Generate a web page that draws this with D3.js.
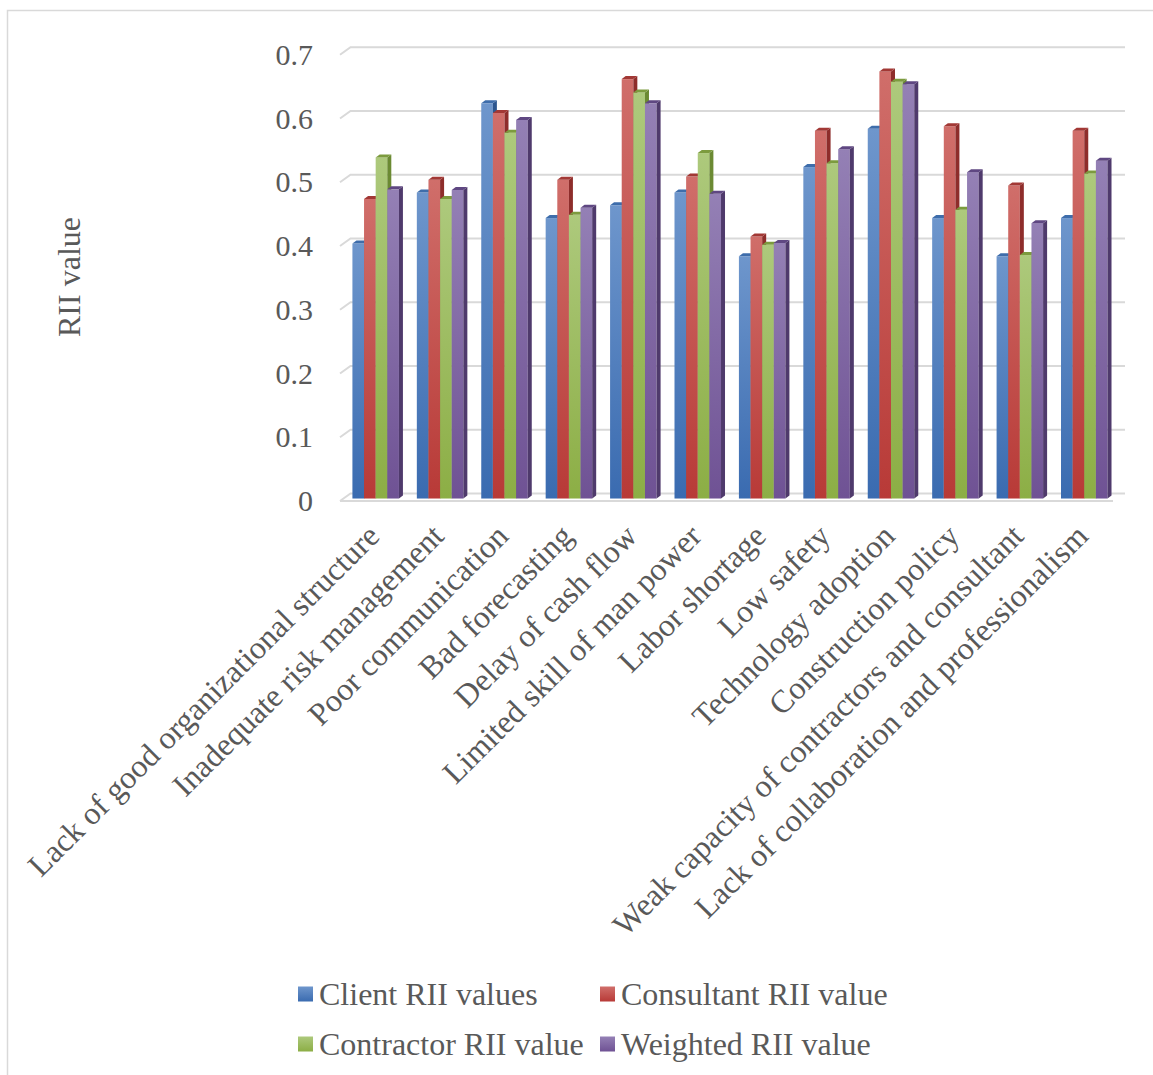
<!DOCTYPE html>
<html>
<head>
<meta charset="utf-8">
<script src="https://cdn.jsdelivr.net/npm/d3@7"></script>
<style>
  html, body { margin: 0; padding: 0; background: #fff; }
  svg { display: block; }
  text { font-family: "Liberation Serif", "Times New Roman", serif; fill: #595959; }
</style>
</head>
<body>
<svg id="chart" width="1153" height="1075"></svg>
<script>
// ---- data ----
const categories = [
  "Lack of good organizational structure",
  "Inadequate risk management",
  "Poor communication",
  "Bad forecasting",
  "Delay of cash flow",
  "Limited skill of man power",
  "Labor shortage",
  "Low safety",
  "Technology adoption",
  "Construction policy",
  "Weak capacity of contractors and consultant",
  "Lack of collaboration and professionalism"
];
const seriesNames = ["Client RII values", "Consultant RII value", "Contractor RII value", "Weighted RII value"];
const clientRII     = [0.40, 0.48, 0.62, 0.44, 0.46, 0.48, 0.38, 0.52, 0.58, 0.44, 0.38, 0.44];
const consultantRII = [0.47, 0.50, 0.605, 0.50, 0.658, 0.505, 0.411, 0.577, 0.67, 0.584, 0.491, 0.577];
const contractorRII = [0.535, 0.47, 0.574, 0.445, 0.637, 0.542, 0.398, 0.526, 0.654, 0.453, 0.382, 0.51];
const weightedRII   = [0.485, 0.484, 0.594, 0.456, 0.62, 0.478, 0.401, 0.548, 0.65, 0.512, 0.432, 0.53];
const yTicks = [0, 0.1, 0.2, 0.3, 0.4, 0.5, 0.6, 0.7];
const axisTitle = "RII value";

const seriesValues = [clientRII, consultantRII, contractorRII, weightedRII];
const seriesColors = [
  { light: "#6e96cc", dark: "#3a6bb0", side: "#2c568f", cap: "#3e6dab" },
  { light: "#d06e6a", dark: "#b83a37", side: "#8e2d2b", cap: "#a23835" },
  { light: "#adc97c", dark: "#8cae45", side: "#6b8a33", cap: "#7c9b3e" },
  { light: "#9480b5", dark: "#6f5294", side: "#4f3a6c", cap: "#5f4782" }
];

// ---- layout ----
const svg = d3.select("#chart");
const W = 1153, H = 1075;
svg.append("rect").attr("width", W).attr("height", H).attr("fill", "#fff");
svg.append("rect")
  .attr("x", 7.5).attr("y", 10.5).attr("width", W).attr("height", H)
  .attr("fill", "none").attr("stroke", "#d9d9d9").attr("stroke-width", 1.5);

const front = { left: 340, right: 1113 };
const depth = { dx: 10.5, dy: -7.5 };          // floor/wall depth offset
const barDepth = { start: 0.33, dx: 4, dy: -3 }; // bars sit inside the floor depth

// value scale measured on the back wall
const yBack = d3.scaleLinear().domain([0, 0.7]).range([493.5, 47.3]);
// the same scale projected onto the front edge
const yFront = d3.scaleLinear().domain([0, 0.7]).range([493.5 - depth.dy, 47.3 - depth.dy]);

const x = d3.scaleBand().domain(categories).range([front.left, front.right]).paddingInner(0).paddingOuter(0);
const groupPad = 8.95;
const xs = d3.scaleBand().domain(d3.range(seriesNames.length))
  .range([0, x.bandwidth() - 2 * groupPad]).padding(0);

// ---- gradients ----
const defs = svg.append("defs");
seriesColors.forEach((c, i) => {
  const g = defs.append("linearGradient").attr("id", "grad" + i)
    .attr("x1", 0).attr("y1", 0).attr("x2", 0).attr("y2", 1);
  g.append("stop").attr("offset", "0%").attr("stop-color", c.light);
  g.append("stop").attr("offset", "100%").attr("stop-color", c.dark);
});

// ---- gridlines (left wall diagonal + back wall) ----
const grid = svg.append("g").attr("class", "grid");
yTicks.forEach(v => {
  const yb = yBack(v);
  grid.append("path")
    .attr("d", `M${front.left},${yb - depth.dy}L${front.left + depth.dx},${yb}L${front.right + depth.dx + 1.5},${yb}`)
    .attr("fill", "none").attr("stroke", "#d9d9d9").attr("stroke-width", 2);
});
// front edge of the floor
grid.append("line")
  .attr("x1", front.left).attr("x2", front.right)
  .attr("y1", yFront(0)).attr("y2", yFront(0))
  .attr("stroke", "#d9d9d9").attr("stroke-width", 2);

// ---- y axis labels ----
const yAxis = d3.axisLeft(yFront).tickValues(yTicks).tickSize(0).tickPadding(0)
  .tickFormat(d => d3.format("")(d));
const yAxisG = svg.append("g").attr("transform", "translate(313,0)").call(yAxis);
yAxisG.select(".domain").remove();
yAxisG.selectAll("text")
  .attr("font-size", 30).attr("fill", "#595959")
  .style("font-family", '"Liberation Serif", serif');

svg.append("text")
  .attr("transform", "translate(80,277) rotate(-90)")
  .attr("text-anchor", "middle").attr("font-size", 32)
  .text(axisTitle);

// ---- bars ----
const barShiftX = depth.dx * barDepth.start;
const barShiftY = depth.dy * barDepth.start;
const bars = svg.append("g").attr("class", "bars");
categories.forEach((cat, ci) => {
  seriesValues.forEach((vals, si) => {
    const v = vals[ci];
    const c = seriesColors[si];
    const bx = x(cat) + groupPad + xs(si) + barShiftX;
    const bw = xs.bandwidth();
    const top = yBack(v) - depth.dy + barShiftY;
    const bottom = yBack(0) - depth.dy + barShiftY;
    const g = bars.append("g");
    g.append("rect")
      .attr("x", bx).attr("y", top).attr("width", bw).attr("height", bottom - top)
      .attr("fill", `url(#grad${si})`);
    g.append("path")
      .attr("d", `M${bx + bw},${top}L${bx + bw + barDepth.dx},${top + barDepth.dy}L${bx + bw + barDepth.dx},${bottom + barDepth.dy}L${bx + bw},${bottom}Z`)
      .attr("fill", c.side);
    g.append("path")
      .attr("d", `M${bx},${top}L${bx + barDepth.dx},${top + barDepth.dy}L${bx + bw + barDepth.dx},${top + barDepth.dy}L${bx + bw},${top}Z`)
      .attr("fill", c.cap);
  });
});

// ---- category labels ----
const catG = svg.append("g").attr("class", "cats");
categories.forEach(cat => {
  const cx = x(cat) + x.bandwidth() / 2 + 9;
  catG.append("text")
    .attr("transform", `translate(${cx},538) rotate(-45)`)
    .attr("text-anchor", "end").attr("font-size", 32)
    .text(cat);
});

// ---- legend ----
const legendPos = [[298, 994], [600, 994], [298, 1044], [600, 1044]];
const legend = svg.append("g").attr("class", "legend");
seriesNames.forEach((name, i) => {
  const [lx, ly] = legendPos[i];
  legend.append("rect")
    .attr("x", lx).attr("y", ly - 7.5).attr("width", 15).attr("height", 15)
    .attr("fill", `url(#grad${i})`);
  legend.append("text")
    .attr("x", lx + 21).attr("y", ly).attr("dy", "0.35em")
    .attr("font-size", 32)
    .text(name);
});
</script>
</body>
</html>
